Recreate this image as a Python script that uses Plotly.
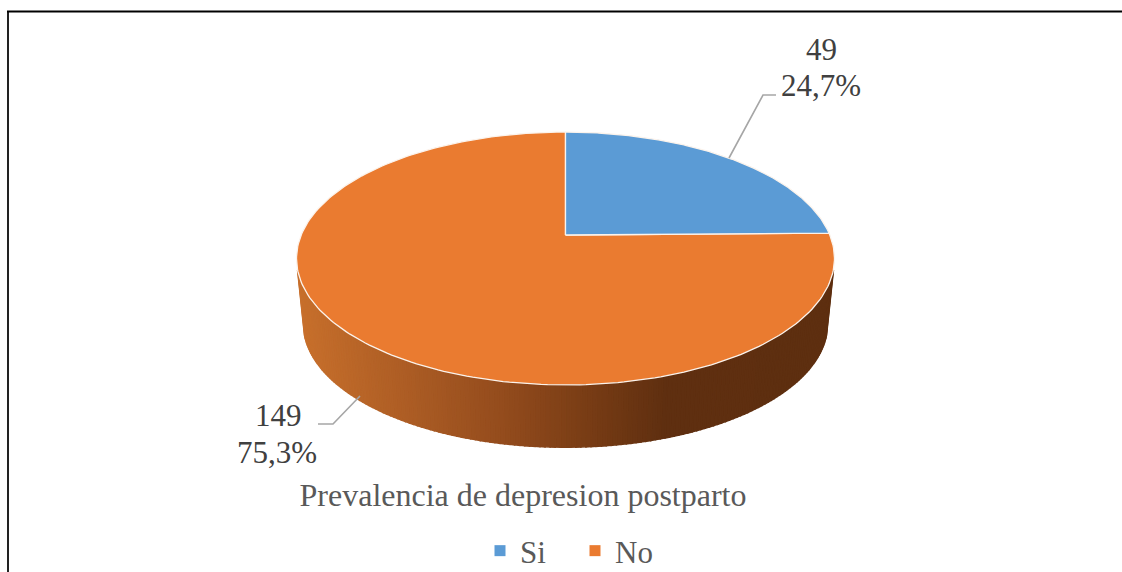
import numpy as np
import plotly.graph_objects as go

# Data
categories = ["Si", "No"]
values = [49, 149]
slice_colors = ["#5B9BD5", "#EA7B30"]
title_text = "Prevalencia de depresion postparto"

# Projection of the tilted disc onto the page (page pixels)
CX = 565.5
TOP_CY = 235.0
BOT_CY = 301.0
A_TOP, B_TOP = 264.3, 122.1
A_BOT, B_BOT = 257.5, 119.0
K = 0.1859

grad_x = [297, 400, 500, 600, 665, 840]
grad_r = [200, 174, 148, 116, 95, 94]
grad_g = [112, 94, 76, 58, 47, 47]
grad_b = [44, 37, 29, 20, 16, 16]


def project(theta, cy, a, b):
    x_c, y_c = np.sin(theta), np.cos(theta)
    w = 1 + K * y_c
    return CX + a * x_c / w, cy - b * y_c / w


total = sum(values)
fractions = [v / total for v in values]
edges = np.cumsum([0] + fractions) * 2 * np.pi

fig = go.Figure()

# Side wall, visible between the two silhouette angles
phi = np.degrees(np.arccos(-K)) + 5
wall = np.radians(np.linspace(phi, 360 - phi, 161))
for t0, t1 in zip(wall[:-1], wall[1:]):
    tt = np.array([t0, t1])
    xa, ya = project(tt, TOP_CY, A_TOP, B_TOP)
    xb, yb = project(tt[::-1], BOT_CY, A_BOT, B_BOT)
    xm = (xa.mean() + xb.mean()) / 2
    col = "rgb({:.0f},{:.0f},{:.0f})".format(
        np.interp(xm, grad_x, grad_r),
        np.interp(xm, grad_x, grad_g),
        np.interp(xm, grad_x, grad_b),
    )
    fig.add_trace(go.Scatter(
        x=list(xa) + list(xb) + [xa[0]], y=list(ya) + list(yb) + [ya[0]],
        mode="lines", fill="toself", fillcolor=col,
        line=dict(color=col, width=1.6), showlegend=False, hoverinfo="skip",
    ))

# Top face: No first, then Si on top of it
for i in [1, 0]:
    tt = np.linspace(edges[i], edges[i + 1], 240)
    xs, ys = project(tt, TOP_CY, A_TOP, B_TOP)
    fig.add_trace(go.Scatter(
        x=[CX] + list(xs) + [CX], y=[TOP_CY] + list(ys) + [TOP_CY],
        mode="lines", fill="toself", fillcolor=slice_colors[i],
        line=dict(color="#FBF3EC", width=1.3), showlegend=False,
        name=categories[i], hoverinfo="name",
    ))

# Leader lines
leader_color = "#A6A6A6"
leaders = [([729, 763, 776], [158, 95, 95]), ([360, 333, 318], [396, 424, 424])]
for lx, ly in leaders:
    fig.add_trace(go.Scatter(x=lx, y=ly, mode="lines",
                             line=dict(color=leader_color, width=1.6),
                             showlegend=False, hoverinfo="skip"))

# Legend entries
for name, col in zip(categories, slice_colors):
    fig.add_trace(go.Scatter(x=[None], y=[None], mode="markers", name=name,
                             marker=dict(symbol="square", size=11, color=col)))

# Data labels
pct = [f"{100 * f:.1f}%".replace(".", ",") for f in fractions]
label_pos = [((821, 49), (821, 85)), ((278, 415), (277, 452))]
for v, p, (p1, p2) in zip(values, pct, label_pos):
    for txt, (ax, ay) in ((str(v), p1), (p, p2)):
        fig.add_annotation(x=ax, y=ay, text=txt, showarrow=False,
                           xanchor="center", yanchor="middle",
                           font=dict(family="Liberation Serif", size=31, color="#404040"))

# Frame of the picture (left and top only)
fig.add_shape(type="line", xref="x", yref="y", x0=8, x1=8, y0=11.5, y1=572,
              line=dict(color="#222222", width=2))
fig.add_shape(type="line", xref="x", yref="y", x0=7, x1=1122, y0=11.5, y1=11.5,
              line=dict(color="#000000", width=2))

fig.update_layout(
    width=1122, height=572, autosize=False,
    margin=dict(l=0, r=0, t=0, b=0, autoexpand=False),
    paper_bgcolor="white", plot_bgcolor="white",
    xaxis=dict(range=[0, 1122], visible=False, fixedrange=True),
    yaxis=dict(range=[572, 0], visible=False, fixedrange=True),
    title=dict(text=title_text, x=523 / 1122, xanchor="center",
               y=1 - 495 / 572, yanchor="middle",
               font=dict(family="Liberation Serif", size=32, color="#595959")),
    legend=dict(orientation="h", x=480 / 1122, xanchor="left",
                y=1 - 551 / 572, yanchor="middle",
                entrywidth=50, entrywidthmode="pixels",
                font=dict(family="Liberation Serif", size=31, color="#595959"),
                bgcolor="rgba(0,0,0,0)"),
)

fig.write_html(
    "out.html",
    config={"displayModeBar": False},
    post_script="document.documentElement.style.overflow='hidden';document.body.style.margin='0';document.body.style.overflow='hidden';",
)
